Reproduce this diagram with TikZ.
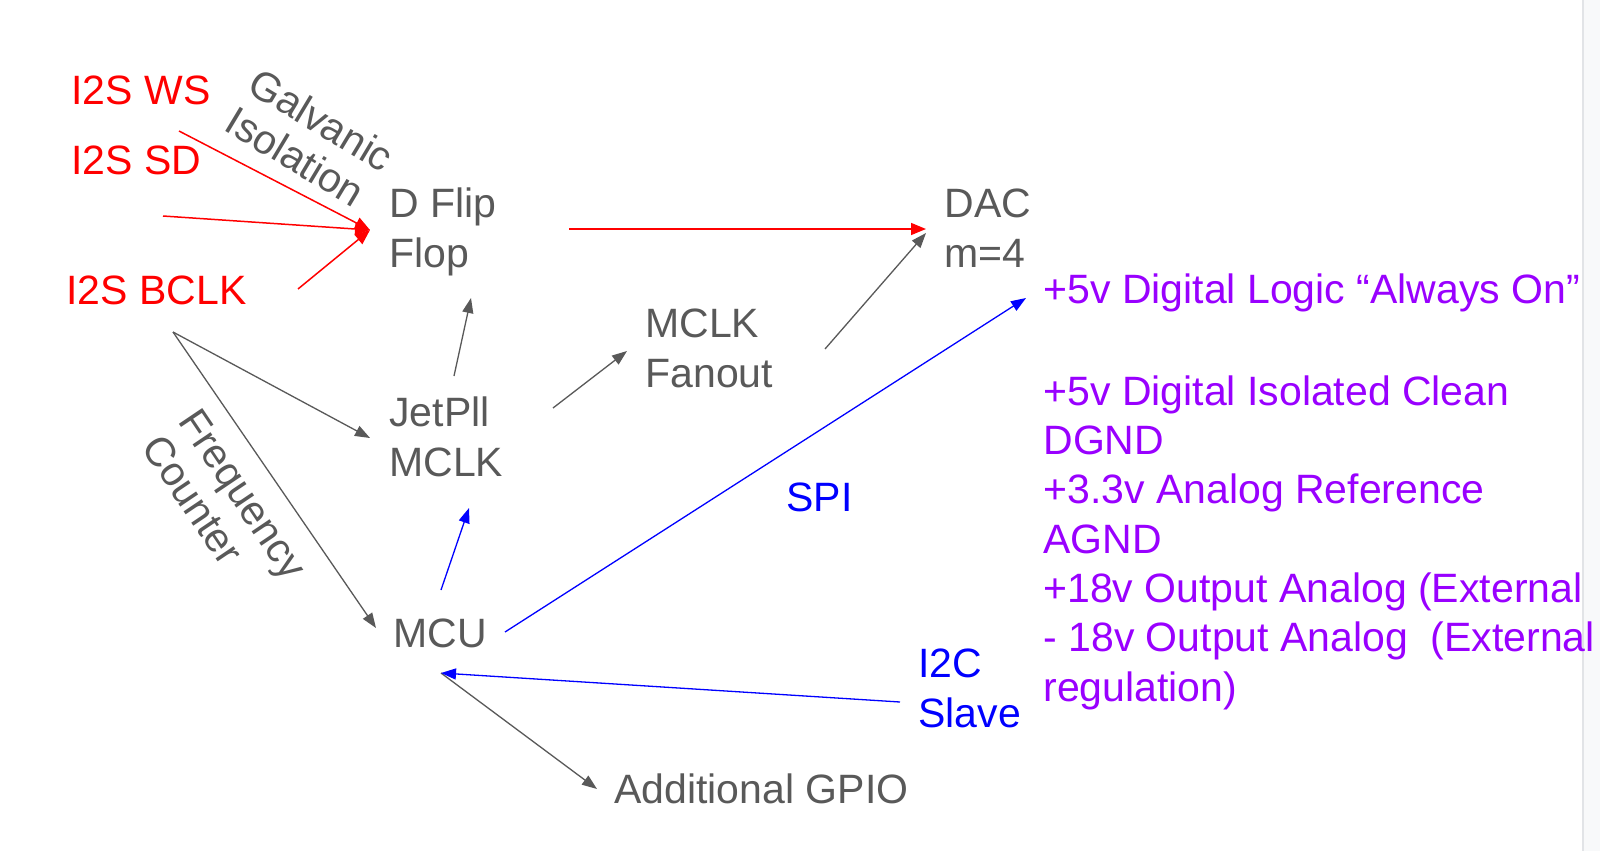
\documentclass[tikz,border=0pt]{standalone}
\usepackage{fontspec}
\setmainfont{Liberation Sans}
\usetikzlibrary{arrows.meta,calc}
\definecolor{tgray}{HTML}{595959}
\definecolor{tpurple}{HTML}{9900FF}
\definecolor{tred}{HTML}{FF0000}
\definecolor{tblue}{HTML}{0000FF}
\definecolor{panelfill}{HTML}{F8F9FA}
\definecolor{panelline}{HTML}{E2E4E7}
\tikzset{
  lbl/.style={font=\fontsize{20.5pt}{24.65pt}\selectfont, inner sep=0pt, anchor=base west, align=left},
  rlbl/.style={font=\fontsize{20.5pt}{22.5pt}\selectfont, inner sep=0pt, align=left, text=tgray},
  grayarr/.style={draw=tgray, line width=0.65pt, -{Triangle[length=7.5pt,width=5.5pt]}, color=tgray},
  redarr/.style={draw=tred, line width=0.75pt, -{Triangle[length=7.5pt,width=6pt]}, color=tred},
  bluearr/.style={draw=tblue, line width=0.65pt, -{Triangle[length=7.5pt,width=5.5pt]}, color=tblue},
}
\begin{document}
\begin{tikzpicture}[x=0.5pt,y=-0.5pt]
\useasboundingbox (0,0) rectangle (1600,851);
\fill[white] (0,0) rectangle (1600,851);
\fill[panelfill] (1583,0) rectangle (1600,851);
\draw[panelline, line width=0.6pt] (1583,0) -- (1583,851);

% labels (base = baseline of the last line)
\node[lbl, text=tred] (ws) at (71,104) {I2S WS};
\node[lbl, text=tred] (sd) at (71,174) {I2S SD};
\node[lbl, text=tred] (bclk) at (66,304) {I2S BCLK};
\node[lbl, text=tgray] (dff) at (389,267) {D Flip\\Flop};
\node[lbl, text=tgray] (dac) at (944,267) {DAC\\m=4};
\node[lbl, text=tgray] (fan) at (645,387) {MCLK\\Fanout};
\node[lbl, text=tgray] (jet) at (389,476) {JetPll\\MCLK};
\node[lbl, text=tgray] (mcu) at (393,647) {MCU};
\node[lbl, text=tgray] (gpio) at (614,803) {Additional GPIO};
\node[lbl, text=tblue] (spi) at (786,511) {SPI};
\node[lbl, text=tblue] (i2c) at (918,727) {I2C\\Slave};
\node[lbl, text=tpurple] (pwr) at (1043,303) {+5v Digital Logic “Always On”};
\node[lbl, text=tpurple] (rails) at (1043,701) {+5v Digital Isolated Clean\\
DGND\\
+3.3v Analog Reference\\
AGND\\
+18v Output Analog (External\\
- 18v Output Analog\ \ (External\\
regulation)};
\node[rlbl, rotate=-31] (galv) at (310,139) {Galvanic\\Isolation};
\node[rlbl, rotate=-56] (freq) at (225,507) {Frequency\\Counter};

% red connectors
\draw[redarr] ($(ws.base west)+(108,27)$) -- ($(dff.base west)+(-19,-37)$);
\draw[redarr] ($(sd.base west)+(92,42)$) -- ($(dff.base west)+(-19,-37)$);
\draw[redarr] ($(bclk.base west)+(232,-15)$) -- ($(dff.base west)+(-19,-37)$);
\draw[redarr] ($(dff.base west)+(180,-38)$) -- ($(dac.base west)+(-18,-38)$);

% gray connectors
\draw[grayarr] ($(jet.base west)+(65,-100)$) -- ($(dff.base west)+(82,31)$);
\draw[grayarr] ($(jet.base west)+(164,-68)$) -- ($(fan.base west)+(-18,-36)$);
\draw[grayarr] ($(fan.base west)+(180,-38)$) -- ($(dac.base west)+(-18,-34)$);
\draw[grayarr] ($(bclk.base west)+(107,28)$) -- ($(jet.base west)+(-19,-38)$);
\draw[grayarr] ($(bclk.base west)+(107,28)$) -- ($(mcu.base west)+(-17,-19)$);
\draw[grayarr] ($(mcu.base west)+(48,26)$) -- ($(gpio.base west)+(-17,-14)$);

% blue connectors
\draw[bluearr] ($(mcu.base west)+(48,-57)$) -- ($(jet.base west)+(80,32)$);
\draw[bluearr] ($(mcu.base west)+(112,-15)$) -- ($(pwr.base west)+(-17,-5)$);
\draw[bluearr] ($(i2c.base west)+(-18,-25)$) -- ($(mcu.base west)+(48,26)$);
\end{tikzpicture}
\end{document}
